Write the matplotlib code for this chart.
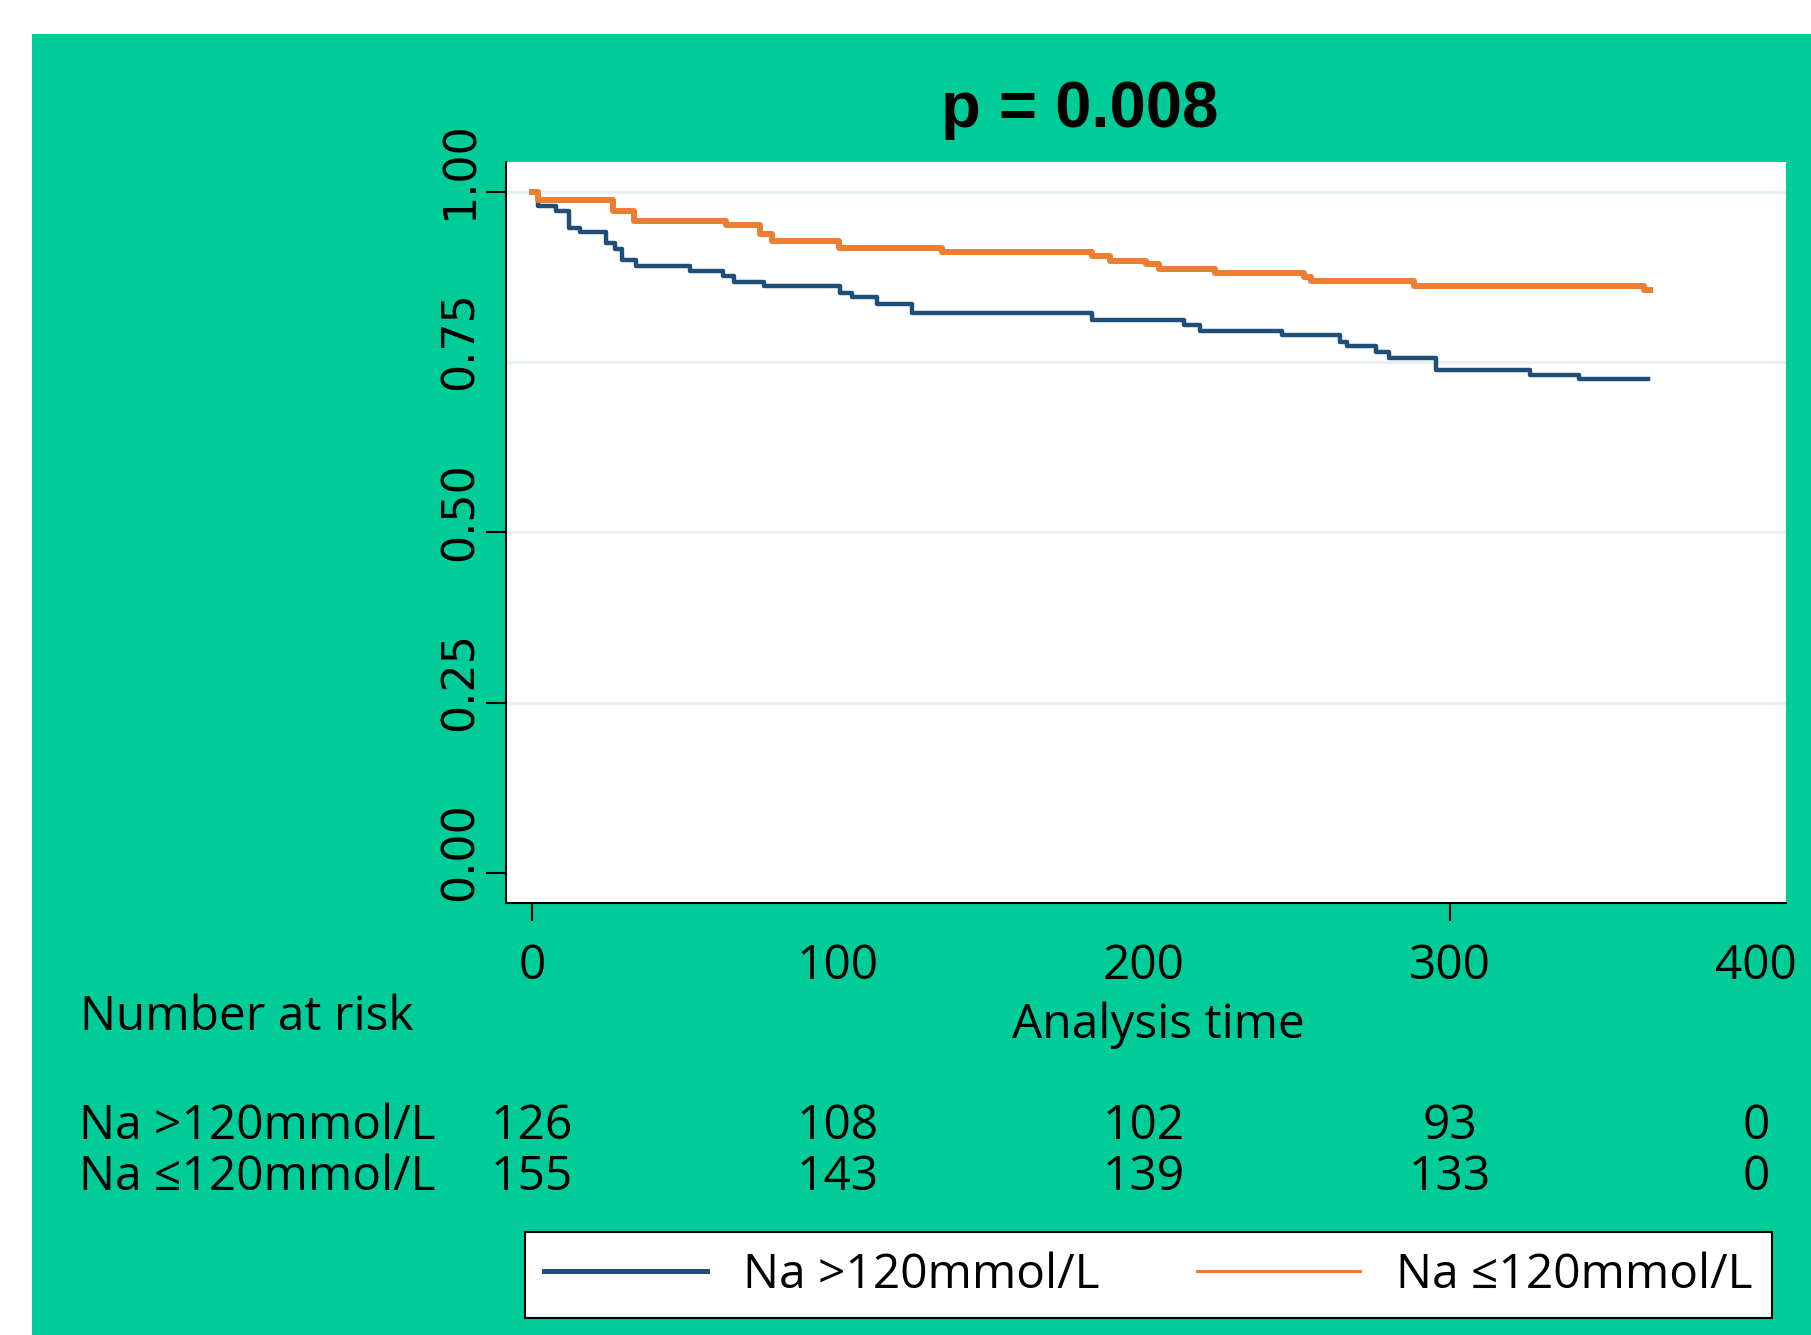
import matplotlib
matplotlib.use('Agg')
import matplotlib.pyplot as plt
import matplotlib.transforms as mtransforms
from matplotlib.lines import Line2D
from matplotlib.patches import Rectangle

# ---------------- data ----------------
navy_t = [0, 2, 8, 12.1, 15.8, 24.3, 27.1, 29.3, 34, 51.7, 62.3, 66.1, 75.8, 100.6, 104.6,
          112.7, 124.2, 183, 213, 218.2, 245.1, 264.1, 266.3, 275.8, 279.9, 295.5, 326.1,
          342.2, 364.8]
navy_s = [1.0, 0.979, 0.972, 0.946, 0.941, 0.924, 0.916, 0.900, 0.891, 0.884, 0.876, 0.868,
          0.862, 0.852, 0.846, 0.835, 0.8215, 0.8117, 0.8043, 0.796, 0.790, 0.780, 0.7735,
          0.765, 0.7554, 0.739, 0.731, 0.7246, 0.7246]

orange_t = [0, 2, 26.4, 33.3, 63.3, 74.5, 78.3, 100.2, 134, 183, 189, 200.7, 205, 223.3,
            252.4, 254.6, 288.2, 363.3, 365.4]
orange_s = [1.0, 0.988, 0.972, 0.957, 0.951, 0.938, 0.927, 0.918, 0.912, 0.906, 0.899,
            0.894, 0.887, 0.881, 0.875, 0.869, 0.862, 0.856, 0.856]

series_labels = ["Na >120mmol/L", "Na \u2264120mmol/L"]
risk_times = [0, 100, 200, 300, 400]
risk_navy = [126, 108, 102, 93, 0]
risk_orange = [155, 143, 139, 133, 0]
xticks = [0, 100, 200, 300, 400]
xticklabels = ["0", "100", "200", "300", "400"]
yticks = [0.0, 0.25, 0.5, 0.75, 1.0]
yticklabels = ["0.00", "0.25", "0.50", "0.75", "1.00"]
gridlines = [0.25, 0.5, 0.75, 1.0]
title = "p = 0.008"
xlabel = "Analysis time"
risk_title = "Number at risk"

# tick marks that are visible in the reference rendering
x_marks_shown = [0, 300]
y_marks_shown = [0.0, 0.25, 0.5, 1.0]

# ---------------- style ----------------
W, H, DPI = 1811, 1335, 100
GREEN = '#00CC99'
NAVY = '#1F4E79'
ORANGE = '#ED7D31'
GRID = '#E8F0F1'
SANS = 'Open Sans'
FS = 34.5

fig = plt.figure(figsize=(W / DPI, H / DPI), dpi=DPI, facecolor='white')
fig.patches.append(Rectangle((32 / W, 0), 1 - 32 / W, (H - 34) / H,
                             transform=fig.transFigure, facecolor=GREEN,
                             edgecolor='none', zorder=-10))

ax = fig.add_axes([506 / W, (H - 902.7) / H, 1280 / W, 740.7 / H])
ax.set_zorder(2)
ax.set_facecolor('white')
ax.set_xlim(-8.5, 409.8)
ax.set_ylim(-0.0436, 1.0436)

for g in gridlines:
    ax.axhline(g, color=GRID, lw=2.4, zorder=1)

ax.step(navy_t, navy_s, where='post', color=NAVY, lw=3.2, zorder=3)
ax.step(orange_t, orange_s, where='post', color=ORANGE, lw=4.3, zorder=3)

for s in ['top', 'right']:
    ax.spines[s].set_visible(False)
for s in ['left', 'bottom']:
    ax.spines[s].set_linewidth(1.5)
    ax.spines[s].set_color('black')

ax.set_xticks(xticks)
ax.set_xticklabels(xticklabels)
ax.tick_params(axis='x', length=13, width=1.5, pad=16, labelsize=FS)
for lab in ax.get_xticklabels():
    lab.set_fontfamily(SANS)

ax.set_yticks(yticks)
ax.set_yticklabels(yticklabels)
ax.tick_params(axis='y', length=14.4, width=1.5, pad=3, labelsize=32, labelrotation=90)
offset = mtransforms.ScaledTranslation(0, 0.21, fig.dpi_scale_trans)
for lab in ax.get_yticklabels():
    lab.set_fontfamily('DejaVu Sans')
    lab.set_va('center')
    lab.set_transform(lab.get_transform() + offset)

for tick, v in zip(ax.xaxis.get_major_ticks(), xticks):
    tick.tick1line.set_visible(v in x_marks_shown)
for tick, v in zip(ax.yaxis.get_major_ticks(), yticks):
    tick.tick1line.set_visible(v in y_marks_shown)

# title
fig.text(1080 / W, 1 - 127 / H, title, ha='center', va='baseline',
         fontsize=47, fontweight='bold', family='Liberation Sans')

# x label
fig.text(1158 / W, 1 - 1038 / H, xlabel, ha='center', va='baseline',
         fontsize=FS, family=SANS)

# number at risk table
fig.text(80 / W, 1 - 1030 / H, risk_title, ha='left', va='baseline',
         fontsize=FS, family=SANS)
trans = mtransforms.blended_transform_factory(ax.transData, fig.transFigure)
rows = [(series_labels[0], risk_navy, 1139), (series_labels[1], risk_orange, 1190)]
for lab, vals, ypx in rows:
    fig.text(79 / W, 1 - ypx / H, lab, ha='left', va='baseline', fontsize=FS, family=SANS)
    for t, v in zip(risk_times, vals):
        ax.text(t, 1 - ypx / H, str(v), transform=trans, ha='center', va='baseline',
                fontsize=FS, family=SANS, clip_on=False)

# legend
handles = [Line2D([], [], color=NAVY, lw=3.6), Line2D([], [], color=ORANGE, lw=2.2)]
leg = fig.legend(handles, series_labels, loc='center',
                 bbox_to_anchor=(525 / W, 17 / H, 1247 / W, 86 / H),
                 mode='expand', ncol=2, prop={'family': SANS, 'size': FS},
                 frameon=True, fancybox=False, framealpha=1, edgecolor='black',
                 borderpad=0.4, handlelength=3.4, handletextpad=0.75, borderaxespad=0)
leg.get_frame().set_linewidth(1.5)
leg.get_frame().set_facecolor('white')

fig.savefig('out.png', dpi=DPI, facecolor=fig.get_facecolor())
